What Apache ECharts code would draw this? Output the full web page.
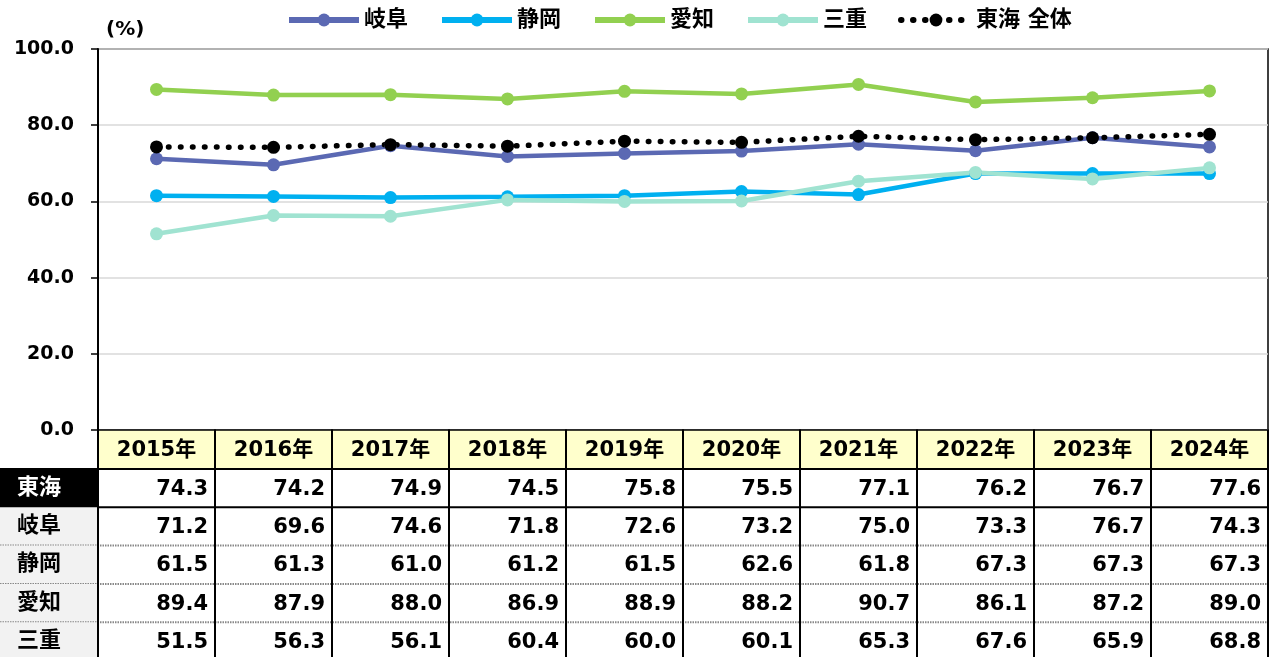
<!DOCTYPE html>
<html>
<head>
<meta charset="utf-8">
<script src="https://cdn.jsdelivr.net/npm/echarts@6/dist/echarts.min.js"></script>
<style>
  html, body { margin: 0; padding: 0; background: #fff; }
  #main { width: 1282px; height: 657px; }
</style>
</head>
<body>
<div id="main"></div>
<script>
// データ
var years = ['2015年', '2016年', '2017年', '2018年', '2019年', '2020年', '2021年', '2022年', '2023年', '2024年'];
var tokai = [74.3, 74.2, 74.9, 74.5, 75.8, 75.5, 77.1, 76.2, 76.7, 77.6];
var gifu = [71.2, 69.6, 74.6, 71.8, 72.6, 73.2, 75.0, 73.3, 76.7, 74.3];
var shizuoka = [61.5, 61.3, 61.0, 61.2, 61.5, 62.6, 61.8, 67.3, 67.3, 67.3];
var aichi = [89.4, 87.9, 88.0, 86.9, 88.9, 88.2, 90.7, 86.1, 87.2, 89.0];
var mie = [51.5, 56.3, 56.1, 60.4, 60.0, 60.1, 65.3, 67.6, 65.9, 68.8];
var yTicks = [0, 20, 40, 60, 80, 100];

var tableRows = [
    { label: '東海', values: tokai },
    { label: '岐阜', values: gifu },
    { label: '静岡', values: shizuoka },
    { label: '愛知', values: aichi },
    { label: '三重', values: mie }
];

var FONT = '"DejaVu Sans", "Noto Sans CJK JP", sans-serif';

var chart = echarts.init(document.getElementById('main'));

function lineSeries(name, data, color) {
    return {
        name: name,
        type: 'line',
        data: data,
        symbol: 'circle',
        symbolSize: 13,
        itemStyle: { color: color },
        lineStyle: { color: color, width: 4.5 }
    };
}

var option = {
    animation: false,
    textStyle: { fontFamily: FONT },
    legend: {
        left: 281,
        top: 4,
        itemWidth: 70,
        itemHeight: 16,
        itemGap: 31,
        lineStyle: { width: 6 },
        textStyle: { fontSize: 22, fontWeight: 'bold', color: '#000', fontFamily: FONT },
        data: ['岐阜', '静岡', '愛知', '三重', '東海 全体']
    },
    grid: {
        left: 98,
        top: 49,
        width: 1170,
        height: 381,
        show: true,
        borderColor: '#000',
        borderWidth: 1.5,
        backgroundColor: 'transparent'
    },
    xAxis: {
        type: 'category',
        data: years,
        boundaryGap: true,
        axisLine: { show: false },
        axisTick: { show: false },
        axisLabel: { show: false }
    },
    yAxis: {
        type: 'value',
        min: yTicks[0],
        max: yTicks[yTicks.length - 1],
        interval: 20,
        axisLine: { show: true, lineStyle: { color: '#000', width: 2 } },
        axisTick: { show: true, length: 7, lineStyle: { color: '#000', width: 1.5 } },
        axisLabel: {
            formatter: function (v) { return v.toFixed(1); },
            fontSize: 19,
            fontWeight: 'bold',
            color: '#000',
            margin: 24
        },
        splitLine: { lineStyle: { color: '#D9D9D9', width: 1.5 } }
    },
    series: [
        lineSeries('岐阜', gifu, '#5B69B3'),
        lineSeries('静岡', shizuoka, '#00B0F0'),
        lineSeries('愛知', aichi, '#92D050'),
        lineSeries('三重', mie, '#A0E3D1'),
        {
            name: '東海 全体',
            type: 'line',
            data: tokai,
            symbol: 'circle',
            symbolSize: 13,
            itemStyle: { color: '#000' },
            lineStyle: { color: '#000', width: 5.5, type: [0.5, 11.5], cap: 'round' }
        }
    ]
};

chart.setOption(option);

// 表をgraphicで描く
function buildTable() {
    var c0 = chart.convertToPixel({ xAxisIndex: 0 }, 0);
    var c1 = chart.convertToPixel({ xAxisIndex: 0 }, 1);
    var band = c1 - c0;
    var headTop = chart.convertToPixel({ yAxisIndex: 0 }, 0);
    var headH = 39;
    var rowH = 38.3;
    var labelW = c0 - band / 2;
    var rightX = labelW + band * years.length;
    var els = [];

    els.push({
        type: 'text', left: 106, top: 20, silent: true,
        style: { text: '(%)', font: 'bold 20px ' + FONT, fill: '#000' }
    });

    years.forEach(function (y, i) {
        var cx = chart.convertToPixel({ xAxisIndex: 0 }, i);
        els.push({
            type: 'rect', silent: true,
            shape: { x: cx - band / 2, y: headTop, width: band, height: headH },
            style: { fill: '#FFFFCC', stroke: '#000', lineWidth: 1.5 }
        });
        els.push({
            type: 'text', silent: true, x: cx, y: headTop + headH / 2 + 1,
            style: { text: y, font: 'bold 21px ' + FONT, fill: '#000', align: 'center', verticalAlign: 'middle' }
        });
    });

    tableRows.forEach(function (row, r) {
        var top = headTop + headH + r * rowH;
        var dark = r === 0;
        els.push({
            type: 'rect', silent: true,
            shape: { x: 0, y: top, width: labelW, height: rowH },
            style: { fill: dark ? '#000' : '#F2F2F2' }
        });
        els.push({
            type: 'text', silent: true, x: 17, y: top + rowH / 2,
            style: { text: row.label, font: 'bold 22px ' + FONT, fill: dark ? '#fff' : '#000', align: 'left', verticalAlign: 'middle' }
        });
        row.values.forEach(function (v, i) {
            var cx = chart.convertToPixel({ xAxisIndex: 0 }, i);
            els.push({
                type: 'text', silent: true, x: cx + band / 2 - 7, y: top + rowH / 2 + 1,
                style: { text: v.toFixed(1), font: 'bold 21px ' + FONT, fill: '#000', align: 'right', verticalAlign: 'middle' }
            });
        });
        // 行の区切り線
        var lineY = top + rowH;
        els.push({
            type: 'line', silent: true,
            shape: { x1: 0, y1: lineY, x2: rightX, y2: lineY },
            style: r === 0
                ? { stroke: '#000', lineWidth: 2 }
                : { stroke: '#888', lineWidth: 2, lineDash: [1.5, 1] }
        });
    });

    els.push({
        type: 'line', silent: true,
        shape: { x1: 0, y1: headTop + headH, x2: rightX, y2: headTop + headH },
        style: { stroke: '#000', lineWidth: 2 }
    });

    for (var i = 0; i <= years.length; i++) {
        var x = labelW + i * band;
        els.push({
            type: 'line', silent: true,
            shape: { x1: x, y1: headTop, x2: x, y2: 660 },
            style: { stroke: '#000', lineWidth: 2 }
        });
    }

    chart.setOption({ graphic: els });
}

buildTable();
</script>
</body>
</html>
